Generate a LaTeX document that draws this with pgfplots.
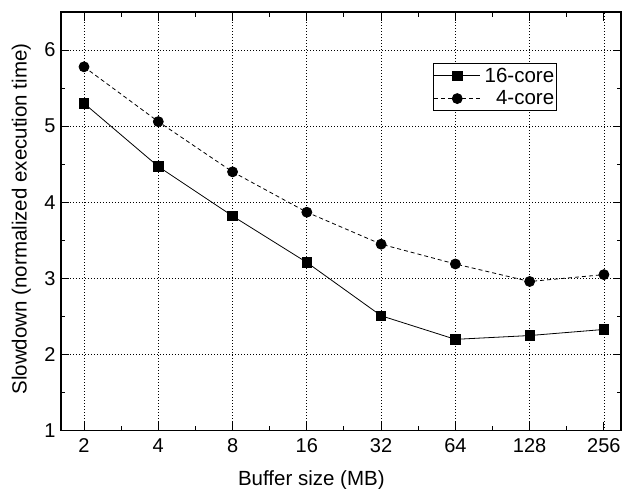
\documentclass[border=0pt]{standalone}
\usepackage{pgfplots}
\pgfplotsset{compat=1.18}
\usepackage{fontspec}
\setmainfont{Liberation Sans}
\begin{document}
\begin{tikzpicture}
\path[use as bounding box] (-61bp,-58.3bp) rectangle (565bp,430.7bp);
\begin{axis}[
  scale only axis,
  width=560bp, height=418.7bp,
  xmin=0.69, xmax=8.23,
  ymin=1, ymax=6.5,
  xtick={1,...,8},
  xticklabels={2,4,8,16,32,64,128,256},
  ytick={1,2,3,4,5,6},
  minor xtick={1.5,2.5,3.5,4.5,5.5,6.5,7.5},
  minor ytick={1.5,2.5,3.5,4.5,5.5,6.5},
  tick align=inside,
  major tick length=8.5bp,
  minor tick length=4.5bp,
  tick style={black, line width=1bp},
  axis line style={line width=1.2bp},
  grid=major,
  major grid style={black, line width=0.7bp, dash pattern=on 1bp off 2bp},
  /pgf/number format/assume math mode=true,
  tick label style={font=\fontsize{20bp}{24bp}\selectfont},
  xticklabel style={anchor=north, yshift=-4.5bp},
  yticklabel style={anchor=east, xshift=-2bp},
  xlabel={Buffer size (MB)},
  ylabel={Slowdown (normalized execution time)},
  label style={font=\fontsize{20.5bp}{24bp}\selectfont},
  xlabel style={at={(axis description cs:0.447,0)}, anchor=base, yshift=-54.5bp},
  ylabel style={at={(axis description cs:-0.0613,0.5056)}, anchor=base, rotate=0},
  legend style={at={(0.886,0.878)}, anchor=north east, font=\fontsize{20.5bp}{24bp}\selectfont,
    draw=black, line width=0.8bp, inner xsep=0.6bp, inner ysep=2.5bp,
    row sep=3bp, column sep=2bp,
    nodes={inner xsep=2bp, inner ysep=2bp},
    cells={anchor=east}},
  legend image code/.code={\draw[mark repeat=2,mark phase=2] plot coordinates {(0bp,0bp) (23bp,0bp) (46bp,0bp)};},
]
\addplot[black, line width=0.8bp, mark=square*, mark size=4.7bp, mark options={solid}]
  coordinates {(1,5.30) (2,4.47) (3,3.82) (4,3.21) (5,2.51) (6,2.20) (7,2.25) (8,2.33)};
\addlegendentry{16-core}
\addplot[black, line width=0.8bp, dash pattern=on 4bp off 3bp, mark=*, mark size=5bp, mark options={solid}]
  coordinates {(1,5.78) (2,5.06) (3,4.40) (4,3.87) (5,3.45) (6,3.19) (7,2.96) (8,3.05)};
\addlegendentry{4-core}
\end{axis}
\end{tikzpicture}
\end{document}
